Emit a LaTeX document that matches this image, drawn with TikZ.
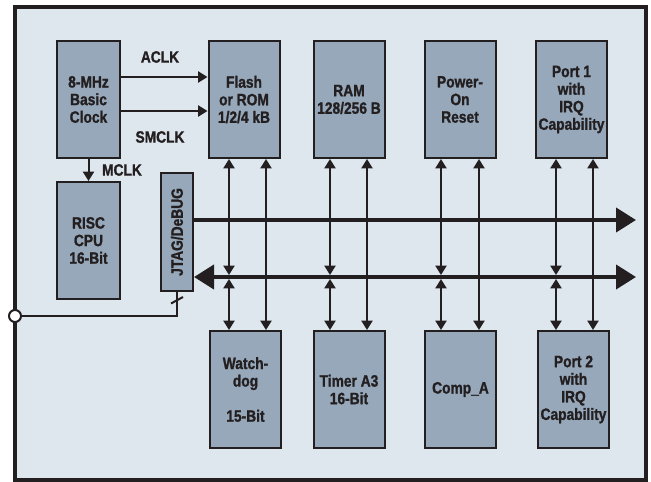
\documentclass[tikz,border=0pt]{standalone}
\usepackage{fontspec}
\setmainfont[FakeStretch=0.84, BoldFeatures={FakeBold=1.2}]{Liberation Sans}
\usepackage{xcolor}
\usepackage{tikz}
\usetikzlibrary{positioning, arrows.meta}

\definecolor{panel}{RGB}{223,231,238}
\definecolor{blockfill}{RGB}{150,168,186}
\definecolor{ink}{RGB}{35,31,32}

\begin{document}
\begin{tikzpicture}[
            x=0.03cm, y=-0.03cm,
            box/.style={
                    draw=ink,
                    fill=blockfill,
                    line width=0.06cm,
                    minimum width=2.13cm,
                    minimum height=3.51cm,
                    inner sep=0pt,
                    align=center,
                    text=ink,
                    font=\fontsize{14}{15}\selectfont\bfseries
                },
            narrowbox/.style={
                    box,
                    minimum width=1.89cm
                },
            sig/.style={
                    text=ink,
                    font=\fontsize{14}{15}\selectfont\bfseries
                },
            smalltip/.tip={Triangle[length=0.28cm, width=0.33cm]},
            bustip/.tip={Triangle[length=0.6cm, width=0.72cm]},
            link/.style={
                    draw=ink,
                    line width=0.06cm
                },
            bus/.style={
                    draw=ink,
                    line width=0.12cm
                }
        ]

        \useasboundingbox (0,0) rectangle (651,482);
        \draw[draw=ink, fill=panel, line width=0.12cm] (15,7) rectangle (646,480);


        \node[narrowbox] (clk) at (88.5,99.5)
        {8-MHz\\Basic\\Clock};


        \node[narrowbox] (cpu) at (88.5,240.5)
        {RISC\\CPU\\16-Bit};


        \node[box, minimum width=0.96cm, minimum height=3.54cm] (jtag) at (177,232) {};
        \node[sig, rotate=90] (jtagname) at (jtag.center) {JTAG/DeBUG};


        \node[box] (flash) at (244,99.5)
        {Flash\\or ROM\\1/2/4 kB};


        \node[box] (ram) at (349,99.5)
        {RAM\\128/256 B};


        \node[box] (por) at (460,99.5)
        {Power-\\On\\Reset};


        \node[box] (port1) at (571.5,99.5)
        {Port 1\\with\\IRQ\\Capability};


        \node[box] (wdt) at (245.5,389.5)
        {Watch-\\dog\\~\\15-Bit};


        \node[box] (timer) at (349,389.5)
        {Timer A3\\16-Bit};


        \node[box] (comp) at (460.5,389.5)
        {Comp\_A};


        \node[box] (port2) at (573.5,389.5)
        {Port 2\\with\\IRQ\\Capability};


        % clock signals
        \node[sig] (aclk) at (160,57) {ACLK};
        \node[sig] (smclk) at (160,137) {SMCLK};
        \node[sig] (mclk) at (122,170) {MCLK};

        \draw[link, -{smalltip}] (clk.east |- 0,77) -- (flash.west |- 0,77);
        \draw[link, -{smalltip}] (clk.east |- 0,111) -- (flash.west |- 0,111);
        \draw[link, -{smalltip}] (clk.south) -- (cpu.north);


        % buses
        \coordinate (abus) at (636,220);
        \coordinate (dbus) at (636,277);

        \draw[bus, -{bustip}] (jtag.east |- abus) -- (abus);
        \draw[bus, {bustip}-{bustip}] (jtag.east |- dbus) -- (dbus);


        % bus taps
        \foreach \up/\dn/\xa/\xb in {flash/wdt/229/266, ram/timer/330/367, por/comp/441/479, port1/port2/556/593} {
                \coordinate (ta) at (\xa,275);
                \coordinate (tb) at (\xa,279);
                \coordinate (tc) at (\xb,0);
                \draw[link, {smalltip}-{smalltip}] (\up.south -| ta) -- (ta);
                \draw[link, {smalltip}-{smalltip}] (tb) -- (\dn.north -| tb);
                \draw[link, {smalltip}-{smalltip}] (\up.south -| tc) -- (\dn.north -| tc);
            }


        % JTAG pin
        \node[circle, draw=ink, fill=white, line width=0.06cm, minimum size=0.36cm, inner sep=0pt] (pin) at (15,316) {};
        \draw[link] (jtag.south) -- (jtag.south |- pin) -- (pin);
        \coordinate (tick) at (jtag.south |- 0,300);
        \draw[link] ([shift={(-6,3.5)}]tick) -- ([shift={(6,-3)}]tick);


    \end{tikzpicture}
\end{document}
